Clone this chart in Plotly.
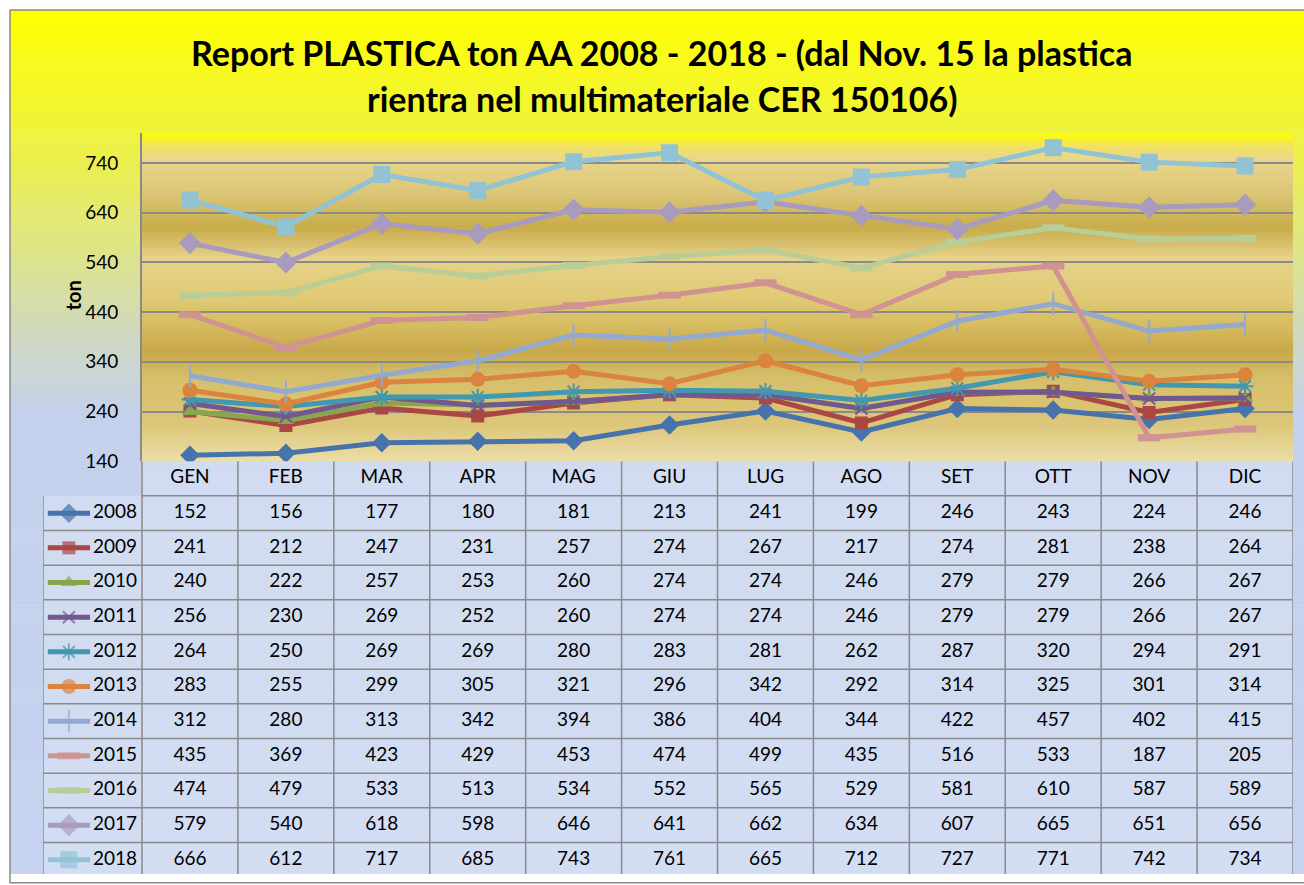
####################################################################################################################
# plot.py
#
# Report PLASTICA - monthly tons 2008-2018, line chart with Excel style data table underneath

####################################################################################################################
# IMPORTS
import plotly.graph_objects as go

####################################################################################################################
# DATA

months = ['GEN', 'FEB', 'MAR', 'APR', 'MAG', 'GIU', 'LUG', 'AGO', 'SET', 'OTT', 'NOV', 'DIC']
years = ['2008', '2009', '2010', '2011', '2012', '2013', '2014', '2015', '2016', '2017', '2018']

v2008 = [152, 156, 177, 180, 181, 213, 241, 199, 246, 243, 224, 246]
v2009 = [241, 212, 247, 231, 257, 274, 267, 217, 274, 281, 238, 264]
v2010 = [240, 222, 257, 253, 260, 274, 274, 246, 279, 279, 266, 267]
v2011 = [256, 230, 269, 252, 260, 274, 274, 246, 279, 279, 266, 267]
v2012 = [264, 250, 269, 269, 280, 283, 281, 262, 287, 320, 294, 291]
v2013 = [283, 255, 299, 305, 321, 296, 342, 292, 314, 325, 301, 314]
v2014 = [312, 280, 313, 342, 394, 386, 404, 344, 422, 457, 402, 415]
v2015 = [435, 369, 423, 429, 453, 474, 499, 435, 516, 533, 187, 205]
v2016 = [474, 479, 533, 513, 534, 552, 565, 529, 581, 610, 587, 589]
v2017 = [579, 540, 618, 598, 646, 641, 662, 634, 607, 665, 651, 656]
v2018 = [666, 612, 717, 685, 743, 761, 665, 712, 727, 771, 742, 734]

y_ticks = [140, 240, 340, 440, 540, 640, 740]

####################################################################################################################
# STYLE

W, H = 1304, 885
FONT = 'Lato'
GRID = '#8a8a8a'

series = [
    # values, colour, symbol, marker size, marker line width
    (v2008, '#4673AB', 'diamond', 15, 0),
    (v2009, '#AA4643', 'square', 13, 0),
    (v2010, '#89A54E', 'triangle-up', 14, 0),
    (v2011, '#71588F', 'x-thin-open', 12, 2),
    (v2012, '#4198AF', 'asterisk-open', 14, 2),
    (v2013, '#DB843D', 'circle', 15, 0),
    (v2014, '#93A9CF', 'line-ns-open', 16, 2),
    (v2015, '#D19392', 'line-ew-open', 16, 7),
    (v2016, '#B9CD96', 'line-ew-open', 16, 7),
    (v2017, '#A99BBD', 'diamond', 17, 0),
    (v2018, '#92C3D4', 'square', 17, 0),
]

# pixel positions of the plot area and the table (figure drawn with zero margins)
PLOT_L, PLOT_R, PLOT_T, PLOT_B = 142, 1293, 135, 467
TABLE_L = 43
ROW_H = 35.1
COL_W = (PLOT_R - PLOT_L) / len(months)
ROW_TOP = -0.5
ROW_BOT = ROW_TOP + (H - PLOT_B) / ROW_H


####################################################################################################################
# FUNCTIONS

def px(x):
    return x / W


def py(y):
    return 1 - y / H


def hex2rgb(h):
    h = h.lstrip('#')
    return tuple(int(h[i:i + 2], 16) for i in (0, 2, 4))


def color_at(stops, y):
    # linear interpolation between (pixel_y, hex colour) stops
    if y <= stops[0][0]:
        return 'rgb(%d,%d,%d)' % hex2rgb(stops[0][1])
    for (y0, c0), (y1, c1) in zip(stops[:-1], stops[1:]):
        if y0 <= y <= y1:
            t = (y - y0) / (y1 - y0)
            a, b = hex2rgb(c0), hex2rgb(c1)
            return 'rgb(%d,%d,%d)' % tuple(round(a[i] + (b[i] - a[i]) * t) for i in range(3))
    return 'rgb(%d,%d,%d)' % hex2rgb(stops[-1][1])


def gradient_strips(stops, x0, x1, y_top, y_bot, step):
    # horizontal bands faking the vertical gradient fill of the excel chart
    shapes = []
    y = y_top
    while y < y_bot:
        y2 = min(y + step, y_bot)
        shapes.append(dict(type='rect', xref='paper', yref='paper', layer='below',
                           x0=px(x0), x1=px(x1), y0=py(min(y2 + 0.5, y_bot)), y1=py(y),
                           fillcolor=color_at(stops, (y + y2) / 2), line=dict(width=0)))
        y = y2
    return shapes


####################################################################################################################
# SCRIPT

fig = go.Figure()

# chart area + plot area backgrounds
chart_stops = [(10, '#ffff00'), (140, '#eef240'), (250, '#dfe585'), (340, '#cfd8c0'),
               (420, '#c4d1ec'), (885, '#c6d3f0')]
plot_stops = [(135, '#ffff00'), (148, '#f1e265'), (162, '#e8d68a'), (195, '#dcc678'),
              (230, '#c8aa4a'), (262, '#e6d28a'), (300, '#e0ca76'), (330, '#d6bc60'),
              (355, '#c8a84a'), (385, '#d8bf66'), (430, '#dcc67a'), (467, '#ecdea8')]

shapes = []
shapes += gradient_strips(chart_stops, 10, W + 5, 10, H, 3)
shapes += gradient_strips(plot_stops, PLOT_L, PLOT_R, PLOT_T, PLOT_B, 2)

# slightly lighter table cells
shapes.append(dict(type='rect', xref='paper', yref='paper', layer='below',
                   x0=px(PLOT_L), x1=px(PLOT_R), y0=0, y1=py(PLOT_B),
                   fillcolor='rgba(255,255,255,0.22)', line=dict(width=0)))
shapes.append(dict(type='rect', xref='paper', yref='paper', layer='below',
                   x0=px(TABLE_L), x1=px(PLOT_L), y0=0, y1=py(PLOT_B + ROW_H),
                   fillcolor='rgba(255,255,255,0.22)', line=dict(width=0)))

# outer chart border
shapes.append(dict(type='rect', xref='paper', yref='paper', layer='above',
                   x0=px(10), x1=1.01, y0=-0.01, y1=py(10), line=dict(color=GRID, width=1.5)))

# table grid (x2/y2 units: one column = one month, one row = one line of the table)
legend_left = -0.5 - (PLOT_L - TABLE_L) / COL_W
line_style = dict(color=GRID, width=1.5)
for r in range(len(years) + 1):
    x_start = -0.5 if r == 0 else legend_left
    shapes.append(dict(type='line', xref='x2', yref='y2', layer='above',
                       x0=x_start, x1=11.5, y0=r + 0.5, y1=r + 0.5, line=line_style))
for c in range(len(months) + 1):
    shapes.append(dict(type='line', xref='x2', yref='y2', layer='above',
                       x0=c - 0.5, x1=c - 0.5, y0=ROW_TOP, y1=ROW_BOT + 1, line=line_style))
shapes.append(dict(type='line', xref='x2', yref='y2', layer='above',
                   x0=legend_left, x1=legend_left, y0=0.5, y1=ROW_BOT + 1, line=line_style))

# the lines
for (vals, col, sym, size, mlw), year in zip(series, years):
    fig.add_trace(go.Scatter(
        x=list(range(len(months))), y=vals, mode='lines+markers', name=year,
        line=dict(color=col, width=5),
        marker=dict(symbol=sym, size=size, color=col, line=dict(color=col, width=mlw)),
        xaxis='x', yaxis='y', showlegend=False, hoverinfo='skip'))

# table: month header
fig.add_trace(go.Scatter(
    x=list(range(len(months))), y=[0] * len(months), text=months, mode='text',
    textfont=dict(family=FONT, size=19, color='black'),
    xaxis='x2', yaxis='y2', showlegend=False, hoverinfo='skip'))

# table: one row per year, legend key + label + values
key_x = [legend_left + 0.05, legend_left + 0.27, legend_left + 0.49]
for r, ((vals, col, sym, size, mlw), year) in enumerate(zip(series, years), start=1):
    fig.add_trace(go.Scatter(
        x=key_x, y=[r] * 3, mode='lines+markers',
        line=dict(color=col, width=5),
        marker=dict(symbol=sym, size=[0, size, 0], color=col, line=dict(color=col, width=mlw)),
        xaxis='x2', yaxis='y2', showlegend=False, hoverinfo='skip'))
    fig.add_trace(go.Scatter(
        x=[legend_left + 0.52], y=[r], text=[year], mode='text', textposition='middle right',
        textfont=dict(family=FONT, size=19, color='black'),
        xaxis='x2', yaxis='y2', showlegend=False, hoverinfo='skip'))
    fig.add_trace(go.Scatter(
        x=list(range(len(months))), y=[r] * len(months), text=[str(v) for v in vals], mode='text',
        textfont=dict(family=FONT, size=19, color='black'),
        xaxis='x2', yaxis='y2', showlegend=False, hoverinfo='skip'))

# title and axis title
annotations = [
    dict(text='<b>Report PLASTICA ton AA 2008 - 2018 - (dal Nov. 15 la plastica</b>',
         xref='paper', yref='paper', x=px(662), y=py(53), showarrow=False,
         xanchor='center', yanchor='middle', font=dict(family=FONT, size=34, color='black')),
    dict(text='<b>rientra nel multimateriale CER 150106)</b>',
         xref='paper', yref='paper', x=px(662), y=py(100), showarrow=False,
         xanchor='center', yanchor='middle', font=dict(family=FONT, size=34, color='black')),
    dict(text='<b>ton</b>', xref='paper', yref='paper', x=px(73), y=py(299), showarrow=False,
         textangle=-90, xanchor='center', yanchor='middle', font=dict(family=FONT, size=20, color='black')),
]

# layout configuration
fig.update_layout(
    width=W, height=H, margin=dict(l=0, r=0, t=0, b=0),
    paper_bgcolor='white', plot_bgcolor='rgba(0,0,0,0)',
    font=dict(family=FONT, size=19, color='black'),
    shapes=shapes, annotations=annotations, showlegend=False,
    xaxis=dict(domain=[px(PLOT_L), px(PLOT_R)], range=[-0.5, 11.5], showgrid=False,
               zeroline=False, showticklabels=False, showline=False, fixedrange=True),
    yaxis=dict(domain=[py(PLOT_B), py(PLOT_T)], range=[140, 800], tickvals=y_ticks,
               showgrid=True, gridcolor=GRID, gridwidth=2, zeroline=False,
               showline=True, linecolor=GRID, linewidth=2, ticks='',
               ticklabelstandoff=18, tickfont=dict(family=FONT, size=19, color='black'),
               fixedrange=True),
    xaxis2=dict(domain=[px(TABLE_L), px(PLOT_R)], range=[legend_left, 11.5], anchor='y2',
                showgrid=False, zeroline=False, showticklabels=False, fixedrange=True),
    yaxis2=dict(domain=[0, py(PLOT_B)], range=[ROW_BOT, ROW_TOP], anchor='x2',
                showgrid=False, zeroline=False, showticklabels=False, fixedrange=True),
)

# drop the default 8px body margin so the 1304x885 figure fills the window exactly
fig.write_html("out.html", config={'displayModeBar': False},
               post_script="document.body.style.margin = '0';")
